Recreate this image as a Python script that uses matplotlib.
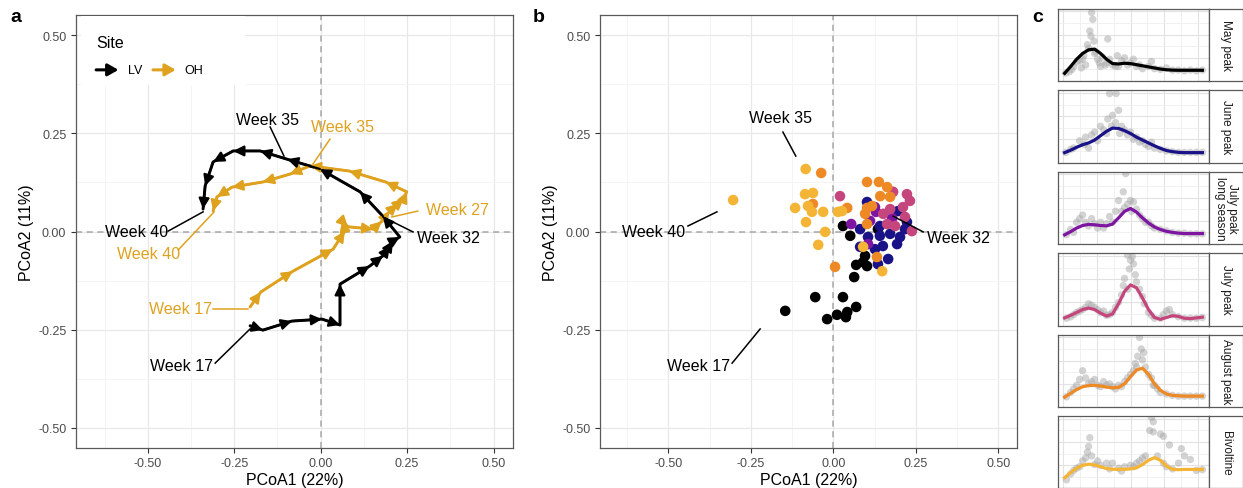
import matplotlib
matplotlib.use("Agg")
import matplotlib.pyplot as plt
from matplotlib.ticker import MultipleLocator
from matplotlib.patches import Rectangle

plt.rcParams['font.family'] = ['Liberation Sans', 'DejaVu Sans']

# ---- panel a: mean trajectories per site (PCoA1, PCoA2), week 17 -> 40
lv_x = [-0.204, -0.167, -0.083, 0.004, 0.056, 0.056, 0.142, 0.180, 0.200, 0.209, 0.229,
        0.180, 0.114, -0.002, -0.097, -0.175, -0.253, -0.311, -0.334, -0.340]
lv_y = [-0.240, -0.251, -0.228, -0.223, -0.238, -0.134, -0.088, -0.062, -0.037, -0.024, -0.014,
        0.039, 0.101, 0.159, 0.184, 0.205, 0.205, 0.177, 0.116, 0.057]
oh_x = [-0.204, -0.173, -0.080, 0.036, 0.070, 0.062, 0.079, 0.152, 0.177, 0.200, 0.223, 0.240,
        0.249, 0.188, 0.082, -0.031, -0.089, -0.167, -0.256, -0.300, -0.311]
oh_y = [-0.192, -0.154, -0.101, -0.045, 0.001, 0.027, 0.012, 0.006, 0.026, 0.052, 0.070, 0.083,
        0.101, 0.126, 0.154, 0.167, 0.146, 0.126, 0.113, 0.088, 0.052]

# ---- panel b: samples coloured by phenology group
groups = ['May peak', 'June peak', 'July peak\nlong season', 'July peak', 'August peak', 'Bivoltine']
colors = ['#000000', '#1A1287', '#7E16A2', '#C4467C', '#EE8A25', '#F4B435']

b_x = {
    'May peak': [0.029, 0.051, 0.135, 0.096, 0.069, 0.090, 0.102, 0.063, -0.055, 0.029,
                 -0.146, -0.019, 0.011, 0.042, 0.038, 0.069],
    'June peak': [0.102, 0.196, 0.223, 0.081, 0.105, 0.141, 0.172, 0.202, 0.217, 0.150,
                  0.193, 0.126, 0.166, 0.135, 0.081, 0.141],
    'July peak\nlong season': [0.054, 0.111, 0.126, 0.178, 0.129, 0.105],
    'July peak': [0.020, 0.181, 0.223, 0.232, 0.211, 0.151, 0.163, 0.187, 0.238, 0.172, 0.217],
    'August peak': [-0.037, -0.062, 0.042, 0.102, 0.138, 0.163, 0.142, 0.172, 0.102, 0.117,
                    0.096, 0.102, 0.132, 0.005],
    'Bivoltine': [-0.304, -0.084, -0.086, -0.062, -0.116, -0.077, -0.065, -0.031, -0.083,
                  -0.025, -0.046, 0.014, 0.026, 0.090, 0.148],
}
b_y = {
    'May peak': [0.014, -0.011, 0.006, -0.062, -0.085, -0.078, -0.088, -0.116, -0.167, -0.167,
                 -0.202, -0.223, -0.212, -0.205, -0.218, -0.192],
    'June peak': [0.075, 0.052, 0.024, 0.006, -0.014, -0.011, -0.006, -0.014, 0.006, -0.037,
                  -0.032, -0.045, -0.070, -0.083, -0.039, 0.014],
    'July peak\nlong season': [0.019, 0.027, 0.062, 0.034, 0.050, -0.032],
    'July peak': [0.090, 0.101, 0.095, 0.078, 0.062, 0.045, 0.019, 0.014, 0.001, 0.057, 0.037],
    'August peak': [0.149, 0.070, 0.060, 0.126, 0.126, 0.113, 0.090, 0.088, 0.060, 0.065,
                    0.045, 0.019, -0.065, -0.090],
    'Bivoltine': [0.080, 0.159, 0.095, 0.098, 0.060, 0.065, 0.050, 0.050, 0.024, -0.001,
                  -0.034, 0.050, 0.052, -0.039, -0.101],
}

# ---- panel c: relative abundance by week, smoothed curve + raw points
weeks = list(range(17, 41))
curves = {
    'May peak': [.106, .20, .30, .38, .43, .44, .38, .30, .24, .235, .245, .24, .225, .21, .195, .18,
                 .165, .155, .15, .148, .148, .148, .148, .148],
    'June peak': [.136, .17, .21, .245, .27, .31, .37, .43, .475, .47, .44, .40, .35, .31, .27, .23,
                  .195, .165, .15, .14, .136, .136, .136, .136],
    'July peak\nlong season': [.126, .17, .22, .255, .27, .265, .255, .25, .275, .36, .45, .49, .44,
                               .36, .29, .235, .20, .175, .16, .15, .144, .144, .144, .144],
    'July peak': [.105, .14, .18, .22, .24, .22, .17, .13, .16, .30, .47, .56, .52, .38, .22, .11,
                  .085, .11, .135, .125, .10, .095, .105, .115],
    'August peak': [.136, .19, .24, .28, .295, .30, .29, .275, .265, .27, .32, .42, .51, .535, .45,
                    .32, .23, .18, .16, .155, .15, .15, .15, .15],
    'Bivoltine': [.15, .22, .28, .32, .335, .325, .30, .275, .265, .265, .265, .27, .285, .33, .39,
                  .425, .39, .31, .265, .26, .263, .263, .263, .263],
}
pts_week = {
    'May peak': [17.2, 17.8, 18.5, 19, 19.5, 19.8, 20.2, 20.5, 20.8, 21, 21.2, 21.4, 21.5, 21.7, 21.9,
                 22.2, 22.5, 22.8, 23, 23.3, 23.8, 24.2, 24.5, 25, 25.5, 25.8, 26.5, 27, 27.5, 28,
                 28.5, 29, 29.5, 30, 31, 31.5, 32, 33, 34, 35, 36, 37, 38, 39, 40, 18.2, 20, 22, 26, 24],
    'June peak': [24.5, 25.6, 25, 26, 24.2, 25.5, 23.5, 22, 21.5, 20.5, 19.5, 20.3, 18.5, 17.2, 18, 21,
                  22.5, 23, 24, 26.5, 27, 27.5, 28, 28.5, 29, 29.5, 30, 30.5, 31, 31.5, 32, 33, 34,
                  35, 36, 37, 38, 39, 40, 26.2, 24.8],
    'July peak\nlong season': [27.2, 26.8, 26, 27.5, 28, 28.5, 27, 26.5, 25.5, 24.5, 25, 29, 29.5, 30,
                               30.5, 31, 31.5, 32, 33, 34, 35, 36, 37, 38, 39, 40, 17.3, 18, 19, 19.5,
                               20, 20.5, 21, 21.5, 22, 22.5, 23, 23.5, 24, 18.5, 28.2],
    'July peak': [27.5, 28.3, 28, 28.5, 27.8, 28.8, 27, 29, 26.8, 29.5, 27.5, 26.5, 30, 30.3, 26, 25.5,
                  25, 24.5, 24, 23.5, 23, 22.5, 22, 21.5, 21, 20.5, 20, 19.5, 19, 18.5, 18, 17.3, 31,
                  31.5, 32, 33, 34, 34.5, 35, 36, 37, 38, 39, 40, 33.5],
    'August peak': [29.5, 29.8, 30.2, 29.2, 30, 28.8, 30.5, 29, 28.5, 31, 31.5, 28, 27.5, 27, 26.5, 26,
                    25.5, 25, 24.5, 24, 23.5, 23, 22.5, 22, 21.5, 21, 20.5, 20, 19.5, 19, 18.5, 18,
                    17.3, 32, 32.5, 33, 34, 35, 36, 37, 38, 39, 40, 31.8],
    'Bivoltine': [31.5, 31.8, 31.2, 31.8, 33, 33.5, 34.5, 36.5, 37, 38, 36, 30.5, 30, 29.5, 29, 28.5,
                  28, 27, 26, 25, 24, 23, 22.5, 22, 21.5, 21, 21.2, 20.8, 20.5, 20, 19.5, 19, 18.5,
                  18, 17.3, 32.5, 33.5, 34, 35, 39, 40, 26.5, 24.5],
}
pts_val = {
    'May peak': [.11, .13, .2, .26, .28, .18, .35, .22, .5, .45, .69, .62, .945, .85, .55, .4, .3, .25,
                 .2, .33, .22, .58, .3, .22, .2, .35, .28, .32, .22, .25, .3, .2, .22, .17, .2, .27,
                 .17, .16, .18, .15, .15, .14, .15, .14, .15, .16, .3, .38, .2, .25],
    'June peak': [.95, .95, .65, .72, .6, .55, .45, .42, .38, .35, .3, .25, .2, .14, .18, .2, .3, .5,
                  .4, .5, .45, .38, .42, .32, .35, .28, .3, .25, .22, .28, .2, .18, .16, .15, .14,
                  .14, .14, .14, .14, .4, .5],
    'July peak\nlong season': [.97, .72, .6, .55, .6, .58, .5, .45, .45, .38, .3, .48, .4, .35, .3, .3,
                               .25, .22, .2, .18, .16, .15, .15, .14, .14, .14, .13, .2, .3, .35,
                               .4, .3, .25, .35, .28, .22, .3, .22, .28, .16, .45],
    'July peak': [.97, .95, .9, .85, .78, .7, .65, .6, .55, .5, .5, .42, .4, .3, .32, .25, .18, .15,
                  .14, .2, .18, .22, .25, .28, .3, .25, .22, .2, .18, .15, .12, .1, .18, .14, .1,
                  .1, .2, .22, .15, .12, .1, .1, .1, .11, .15],
    'August peak': [.96, .8, .75, .7, .65, .6, .55, .55, .5, .45, .4, .45, .4, .35, .28, .3, .25, .28,
                    .32, .3, .35, .28, .3, .38, .35, .32, .4, .5, .38, .3, .25, .2, .14, .3, .25, .2,
                    .18, .16, .15, .15, .15, .15, .15, .3],
    'Bivoltine': [.98, .92, .8, .78, .75, .72, .6, .55, .45, .4, .35, .45, .42, .38, .35, .3, .32, .3,
                  .28, .35, .35, .32, .38, .33, .45, .58, .7, .5, .42, .38, .3, .28, .25, .2, .12, .45,
                  .35, .3, .27, .25, .26, .24, .27],
}

W, H = 1243, 489
fig = plt.figure(figsize=(W / 100, H / 100), dpi=100)


def px_axes(left, top, right, bottom):
    return fig.add_axes([left / W, 1 - bottom / H, (right - left) / W, (bottom - top) / H])


def style_pcoa(ax):
    ax.set_xlim(-0.7075, 0.5575)
    ax.set_ylim(-0.55, 0.55)
    ticks = [-0.5, -0.25, 0, 0.25, 0.5]
    ax.set_xticks(ticks)
    ax.set_yticks(ticks)
    ax.set_xticklabels(['-0.50', '-0.25', '0.00', '0.25', '0.50'])
    ax.set_yticklabels(['-0.50', '-0.25', '0.00', '0.25', '0.50'])
    ax.xaxis.set_minor_locator(MultipleLocator(0.125))
    ax.yaxis.set_minor_locator(MultipleLocator(0.125))
    ax.grid(which='major', color='#E8E8E8', lw=0.9)
    ax.grid(which='minor', color='#F3F3F3', lw=0.6)
    ax.set_axisbelow(True)
    ax.tick_params(which='major', length=3.5, width=0.8, color='#333333',
                   labelsize=9, labelcolor='#4D4D4D')
    ax.tick_params(which='minor', length=0)
    for s in ax.spines.values():
        s.set_color('#5A5A5A')
        s.set_linewidth(0.9)
    ax.axhline(0, color='#A8A8A8', lw=1.1, ls=(0, (4, 3)), zorder=1)
    ax.axvline(0, color='#A8A8A8', lw=1.1, ls=(0, (4, 3)), zorder=1)
    ax.set_xlabel('PCoA1 (22%)', fontsize=11.5, labelpad=2)
    ax.set_ylabel('PCoA2 (11%)', fontsize=11.5, labelpad=3)


def label(ax, text, color, tx, ty, x0, y0, x1, y1):
    ax.plot([x0, x1], [y0, y1], color=color, lw=1.1, zorder=5)
    ax.text(tx, ty, text, color=color, fontsize=11.5, ha='center', va='center', zorder=6)


def draw_path(ax, xs, ys, color):
    ax.plot(xs, ys, color=color, lw=2.1, solid_joinstyle='round', solid_capstyle='round', zorder=3)
    for i in range(1, len(xs)):
        ax.annotate('', xy=(xs[i], ys[i]), xytext=(xs[i - 1], ys[i - 1]),
                    arrowprops=dict(arrowstyle='-|>,head_length=0.7,head_width=0.35', color=color,
                                    lw=1.6, shrinkA=0, shrinkB=0, mutation_scale=9), zorder=4)


# ---- panel a
gold = '#DFA21F'
ax_a = px_axes(76, 16.4, 513.4, 448.6)
style_pcoa(ax_a)
draw_path(ax_a, oh_x, oh_y, gold)
draw_path(ax_a, lv_x, lv_y, 'black')
label(ax_a, 'Week 35', 'black', -0.155, 0.286, -0.146, 0.266, -0.106, 0.192)
label(ax_a, 'Week 35', gold, 0.064, 0.266, 0.027, 0.235, -0.022, 0.172)
label(ax_a, 'Week 27', gold, 0.397, 0.055, 0.281, 0.052, 0.206, 0.037)
label(ax_a, 'Week 32', 'black', 0.371, -0.014, 0.267, -0.001, 0.180, 0.037)
label(ax_a, 'Week 40', 'black', -0.531, -0.001, -0.441, 0.001, -0.340, 0.050)
label(ax_a, 'Week 40', gold, -0.499, -0.055, -0.412, -0.047, -0.308, 0.050)
label(ax_a, 'Week 17', gold, -0.404, -0.197, -0.311, -0.197, -0.210, -0.197)
label(ax_a, 'Week 17', 'black', -0.401, -0.342, -0.305, -0.335, -0.204, -0.248)

# legend box
ax_a.add_patch(Rectangle((0.012, 0.84), 0.375, 0.158, transform=ax_a.transAxes,
                         facecolor='white', edgecolor='none', zorder=7))
ax_a.text(0.046, 0.938, 'Site', transform=ax_a.transAxes, fontsize=11.5, va='center', zorder=8)
for (x0, x1, tx, name, c) in [(0.046, 0.097, 0.119, 'LV', 'black'), (0.176, 0.228, 0.247, 'OH', gold)]:
    ax_a.annotate('', xy=(x1, 0.874), xytext=(x0, 0.874), xycoords='axes fraction',
                  arrowprops=dict(arrowstyle='-|>,head_length=0.7,head_width=0.4', color=c,
                                  lw=2.2, shrinkA=0, shrinkB=0, mutation_scale=9), zorder=8)
    ax_a.text(tx, 0.874, name, transform=ax_a.transAxes, fontsize=9, va='center', zorder=8)

# ---- panel b
ax_b = px_axes(600, 16.4, 1017.3, 448.6)
style_pcoa(ax_b)
for g, c in zip(groups, colors):
    ax_b.scatter(b_x[g], b_y[g], s=58, color=c, edgecolors='none', zorder=3)
label(ax_b, 'Week 35', 'black', -0.161, 0.291, -0.153, 0.253, -0.114, 0.192)
label(ax_b, 'Week 40', 'black', -0.546, 0.001, -0.441, 0.014, -0.353, 0.050)
label(ax_b, 'Week 32', 'black', 0.378, -0.014, 0.272, -0.001, 0.181, 0.039)
label(ax_b, 'Week 17', 'black', -0.409, -0.342, -0.307, -0.335, -0.222, -0.248)

# ---- panel c
top0, step, hh = 9.5, 81.5, 72.5
for i, (g, c) in enumerate(zip(groups, colors)):
    top = top0 + i * step
    ax = px_axes(1058, top, 1209, top + hh)
    ax.scatter(pts_week[g], pts_val[g], s=28, color='#A8A8A8', alpha=0.5, edgecolors='none', zorder=2)
    ax.plot(weeks, curves[g], color=c, lw=2.3, zorder=3)
    ax.set_xlim(15.89, 41.11)
    ax.set_ylim(0, 1)
    ax.xaxis.set_major_locator(MultipleLocator(5.6))
    ax.xaxis.set_minor_locator(MultipleLocator(2.8))
    ax.yaxis.set_major_locator(MultipleLocator(0.32))
    ax.yaxis.set_minor_locator(MultipleLocator(0.16))
    ax.grid(which='major', color='#E2E2E2', lw=0.8)
    ax.grid(which='minor', color='#EFEFEF', lw=0.6)
    ax.set_axisbelow(True)
    ax.tick_params(which='both', length=0, labelbottom=False, labelleft=False)
    for s in ax.spines.values():
        s.set_color('#5A5A5A')
        s.set_linewidth(0.9)
    ax_s = px_axes(1209, top, 1243, top + hh)
    ax_s.set_xticks([])
    ax_s.set_yticks([])
    for s in ax_s.spines.values():
        s.set_color('#5A5A5A')
        s.set_linewidth(0.9)
    ax_s.text(0.5, 0.5, g, rotation=270, ha='center', va='center', fontsize=8.5,
              color='#1A1A1A', transform=ax_s.transAxes, linespacing=0.95)

# panel letters
for letter, x in [('a', 10), ('b', 533), ('c', 1032)]:
    fig.text(x / W, 1 - 18 / H, letter, fontsize=14, fontweight='bold', va='center', ha='left')

fig.savefig('out.png', dpi=100)
